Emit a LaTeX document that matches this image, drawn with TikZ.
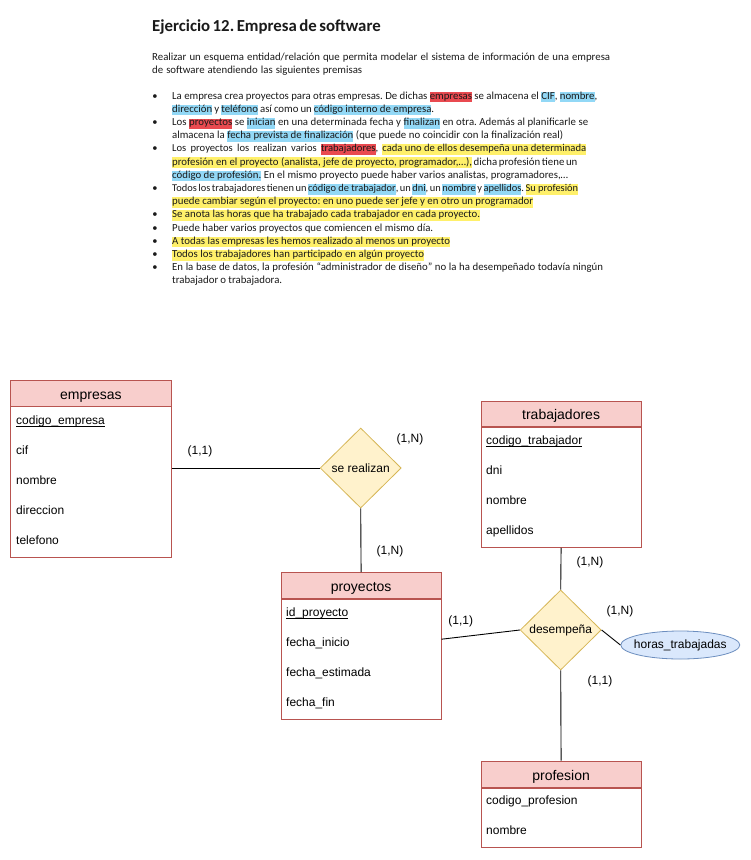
\documentclass[tikz,border=0pt]{standalone}
\usepackage{fontspec}
\setmainfont{Carlito}
\newfontfamily\dfont{Liberation Sans}
\usetikzlibrary{shapes.geometric}

% highlight and diagram colours
\definecolor{hlred}{HTML}{E94A50}
\definecolor{hlblue}{HTML}{92D8F6}
\definecolor{hlyel}{HTML}{FFF06A}
\definecolor{entfill}{HTML}{F8CECC}
\definecolor{entline}{HTML}{B85450}
\definecolor{relfill}{HTML}{FFF2CC}
\definecolor{relline}{HTML}{D6B656}
\definecolor{atfill}{HTML}{DAE8FC}
\definecolor{atline}{HTML}{6C8EBF}
\definecolor{ink}{HTML}{1A1A1A}

% marker-pen style highlights
\newcommand\hlstrut{\rule[-3.2pt]{0pt}{10pt}}
\newcommand\hlbox[2]{{\setlength{\fboxsep}{0pt}\colorbox{#1}{\hlstrut#2}}}
\newcommand\mkred[1]{\hlbox{hlred}{#1}}
\newcommand\mkblue[1]{\hlbox{hlblue}{#1}}
\newcommand\mkyel[1]{\hlbox{hlyel}{#1}}

% key attribute: underline at underscore level
\newsavebox\keybox
\newcommand\keyattr[1]{\sbox\keybox{#1}\rlap{\rule[-2.4pt]{\wd\keybox}{0.7pt}}\usebox\keybox}

\tikzset{
  textline/.style={anchor=base west, inner sep=0pt, text=ink,
    font=\fontsize{10.8}{12}\selectfont},
  bullet/.style={anchor=base, inner sep=0pt, text=ink,
    font=\fontsize{10.5}{12}\selectfont},
  enthead/.style={draw=entline, line width=0.8pt, fill=entfill, inner sep=0pt, minimum width=160pt,
    text height=14pt, text depth=2pt,
    font=\dfont\fontsize{14}{16}\selectfont, anchor=north west},
  entbody/.style={draw=entline, line width=0.8pt, fill=white, inner sep=0pt, minimum width=160pt, anchor=north},
  attr/.style={anchor=base west, inner sep=0pt, font=\dfont\fontsize{12}{14}\selectfont},
  rel/.style={diamond, aspect=1, draw=relline, line width=0.8pt, fill=relfill, inner sep=0pt,
    minimum width=81pt, minimum height=80pt, font=\dfont\fontsize{12}{14}\selectfont},
  attrel/.style={ellipse, draw=atline, line width=0.8pt, fill=atfill, inner sep=0pt,
    minimum width=119pt, minimum height=28pt, font=\dfont\fontsize{12}{14}\selectfont},
  card/.style={inner sep=0pt, font=\dfont\fontsize{12}{14}\selectfont},
  link/.style={draw=black, line width=0.9pt}
}

\begin{document}
\frenchspacing
\begin{tikzpicture}[x=1pt, y=-1pt]
\useasboundingbox (0,0) rectangle (751,860);
\fill[white] (0,0) rectangle (751,860);

% ---- statement of the exercise ----
\node[anchor=base west, inner sep=0pt, text=ink, font=\bfseries\fontsize{16.8}{20}\selectfont]
  (title) at (152,31) {\makebox[227pt][s]{Ejercicio 12. Empresa de software}};

\node[textline] (p1) at (152,60) {\makebox[458pt][s]{Realizar un esquema entidad/relación que permita modelar el sistema de información de una empresa}};
\node[textline] (p2) at (152,73.3) {\makebox[210pt][s]{de software atendiendo las siguientes premisas}};

\foreach \y in {99, 125.4, 151.8, 191.4, 217.8, 231, 244.2, 257.4, 270.6}
  \node[bullet] at (155,\y) {•};

\node[textline] (l1) at (172,99) {\makebox[425pt][s]{La empresa crea proyectos para otras empresas. De dichas \mkred{empresas} se almacena el \mkblue{CIF}, \mkblue{nombre},}};
\node[textline] (l2) at (172,112.2) {\makebox[262pt][s]{\mkblue{dirección} y \mkblue{teléfono} así como un \mkblue{código interno de empresa}.}};
\node[textline] (l3) at (172,125.4) {\makebox[416pt][s]{Los \mkred{proyectos} se \mkblue{inician} en una determinada fecha y \mkblue{finalizan} en otra. Además al planificarle se}};
\node[textline] (l4) at (172,138.6) {\makebox[391pt][s]{almacena la \mkblue{fecha prevista de finalización} (que puede no coincidir con la finalización real)}};
\node[textline, font=\fontsize{10.6}{12}\selectfont] (l5) at (172,151.8) {\makebox[414pt][s]{Los proyectos los realizan varios \mkred{trabajadores}, \mkyel{cada uno de ellos desempeña una determinada}}};
\node[textline] (l6) at (172,165) {\makebox[404pt][s]{\mkyel{profesión en el proyecto (analista, jefe de proyecto, programador,…),} dicha profesión tiene un}};
\node[textline] (l7) at (172,178.2) {\makebox[396pt][s]{\mkblue{código de profesión.} En el mismo proyecto puede haber varios analistas, programadores,…}};
\node[textline, font=\fontsize{10.4}{12}\selectfont] (l8) at (172,191.4) {\makebox[405pt][s]{Todos los trabajadores tienen un \mkblue{código de trabajador}, un \mkblue{dni}, un \mkblue{nombre} y \mkblue{apellidos}. \mkyel{Su profesión}}};
\node[textline] (l9) at (172,204.6) {\mkyel{\makebox[361pt][s]{puede cambiar según el proyecto: en uno puede ser jefe y en otro un programador}}};
\node[textline] (l10) at (172,217.8) {\mkyel{\makebox[308pt][s]{Se anota las horas que ha trabajado cada trabajador en cada proyecto.}}};
\node[textline] (l11) at (172,231) {\makebox[261pt][s]{Puede haber varios proyectos que comiencen el mismo día.}};
\node[textline] (l12) at (172,244.2) {\mkyel{\makebox[278pt][s]{A todas las empresas les hemos realizado al menos un proyecto}}};
\node[textline] (l13) at (172,257.4) {\mkyel{\makebox[252pt][s]{Todos los trabajadores han participado en algún proyecto}}};
\node[textline] (l14) at (172,270.6) {\makebox[431pt][s]{En la base de datos, la profesión “administrador de diseño” no la ha desempeñado todavía ningún}};
\node[textline] (l15) at (172,283.8) {\makebox[110pt][s]{trabajador o trabajadora.}};

% ---- entities ----
\node[enthead, minimum width=161pt, minimum height=25.5pt] (emp) at (10,380) {empresas};
\node[entbody, minimum width=161pt, minimum height=150.5pt] (empB) at (emp.south) {};
\node[attr] (emp1) at (16,424) {\keyattr{codigo\_empresa}};
\node[attr] (emp2) at (16,454) {cif};
\node[attr] (emp3) at (16,484) {nombre};
\node[attr] (emp4) at (16,514) {direccion};
\node[attr] (emp5) at (16,544) {telefono};

\node[enthead, minimum height=26pt] (pro) at (280.7,572) {proyectos};
\node[entbody, minimum height=120pt] (proB) at (pro.south) {};
\node[attr] (pro1) at (286,616) {\keyattr{id\_proyecto}};
\node[attr] (pro2) at (286,646) {fecha\_inicio};
\node[attr] (pro3) at (286,676) {fecha\_estimada};
\node[attr] (pro4) at (286,706) {fecha\_fin};

\node[enthead, minimum height=25.5pt] (tra) at (480.7,400.7) {trabajadores};
\node[entbody, minimum height=120pt] (traB) at (tra.south) {};
\node[attr] (tra1) at (486,444) {\keyattr{codigo\_trabajador}};
\node[attr] (tra2) at (486,474) {dni};
\node[attr] (tra3) at (486,504) {nombre};
\node[attr] (tra4) at (486,534) {apellidos};

\node[enthead, minimum height=26pt] (prf) at (480.7,760.7) {profesion};
\node[entbody, minimum height=59.3pt] (prfB) at (prf.south) {};
\node[attr] (prf1) at (486,804) {codigo\_profesion};
\node[attr] (prf2) at (486,834) {nombre};

% ---- relationships ----
\node[rel] (sr) at (360.7,468) {\makebox[0pt]{se realizan}};
\node[rel] (des) at (560.7,630) {\makebox[0pt]{desempeña}};
\node[attrel] (horas) at (680.3,645) {\makebox[0pt]{horas\_trabajadas}};

% ---- connectors ----
\draw[link] (sr.west) -- (sr.west -| empB.east);
\draw[link] (sr.south) -- (pro.north);
\draw[link] (des.west) -- ([yshift=20pt]proB.east);
\draw[link] (traB.south) -- (des.north);
\draw[link] (des.south) -- (prf.north);
\draw[link] (des.east) -- (horas.west);

% ---- cardinalities ----
\node[card] (c1) at (200,451) {(1,1)};
\node[card] (c2) at (410,439) {(1,N)};
\node[card] (c3) at (390,551) {(1,N)};
\node[card] (c4) at (590,562) {(1,N)};
\node[card] (c5) at (620,611) {(1,N)};
\node[card] (c6) at (460.7,621) {(1,1)};
\node[card] (c7) at (600,681) {(1,1)};
\end{tikzpicture}
\end{document}
